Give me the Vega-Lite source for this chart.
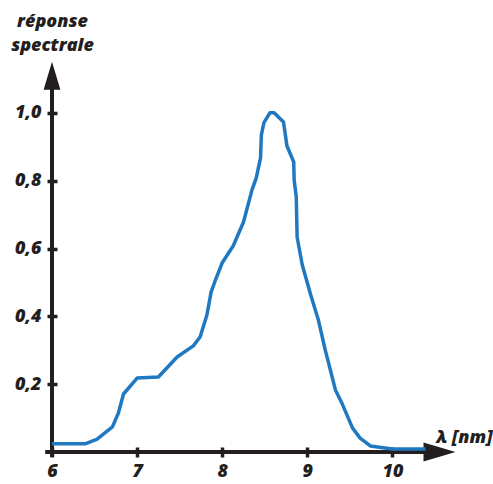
{
  "$schema": "https://vega.github.io/schema/vega-lite/v6.json",
  "width": 383,
  "height": 407,
  "autosize": {"type": "none"},
  "padding": {"left": 52, "top": 45, "right": 58, "bottom": 32},
  "background": "white",
  "config": {"view": {"stroke": null}},
  "datasets": {
    "curve": [
      {"lambda": 6.00, "r": 0.024}, {"lambda": 6.39, "r": 0.024}, {"lambda": 6.53, "r": 0.038},
      {"lambda": 6.71, "r": 0.074}, {"lambda": 6.78, "r": 0.115}, {"lambda": 6.84, "r": 0.171},
      {"lambda": 7.00, "r": 0.218}, {"lambda": 7.25, "r": 0.221}, {"lambda": 7.47, "r": 0.280},
      {"lambda": 7.66, "r": 0.313}, {"lambda": 7.74, "r": 0.339}, {"lambda": 7.82, "r": 0.404},
      {"lambda": 7.87, "r": 0.472}, {"lambda": 7.92, "r": 0.507}, {"lambda": 8.00, "r": 0.558},
      {"lambda": 8.13, "r": 0.608}, {"lambda": 8.25, "r": 0.678}, {"lambda": 8.35, "r": 0.773},
      {"lambda": 8.40, "r": 0.808}, {"lambda": 8.45, "r": 0.867}, {"lambda": 8.46, "r": 0.935},
      {"lambda": 8.49, "r": 0.971}, {"lambda": 8.56, "r": 1.000}, {"lambda": 8.61, "r": 1.000},
      {"lambda": 8.72, "r": 0.973}, {"lambda": 8.76, "r": 0.903}, {"lambda": 8.84, "r": 0.855},
      {"lambda": 8.845, "r": 0.802}, {"lambda": 8.87, "r": 0.752}, {"lambda": 8.88, "r": 0.634},
      {"lambda": 8.94, "r": 0.552}, {"lambda": 9.04, "r": 0.463}, {"lambda": 9.13, "r": 0.389},
      {"lambda": 9.21, "r": 0.301}, {"lambda": 9.33, "r": 0.183}, {"lambda": 9.41, "r": 0.142},
      {"lambda": 9.53, "r": 0.071}, {"lambda": 9.62, "r": 0.041}, {"lambda": 9.74, "r": 0.018},
      {"lambda": 10.00, "r": 0.009}, {"lambda": 10.39, "r": 0.009}
    ],
    "axes": [
      {"x": 5.92, "x2": 10.5, "y": 0, "y2": 0},
      {"x": 6, "x2": 6, "y": -0.015, "y2": 1.1}
    ]
  },
  "layer": [
    {
      "data": {"name": "axes"},
      "mark": {"type": "rule", "color": "#231f20", "strokeWidth": 4},
      "encoding": {
        "x": {"field": "x", "type": "quantitative", "scale": {"domain": [6, 10.5], "nice": false, "zero": false},
          "axis": {"values": [6, 7, 8, 9, 10], "format": "d", "domain": false, "grid": false, "offset": -5, "tickSize": 10, "tickWidth": 3.5, "tickColor": "#231f20",
            "labelFont": "Open Sans", "labelFontStyle": "italic", "labelFontWeight": 800, "labelFontSize": 18, "labelColor": "#231f20", "labelPadding": 5, "labelFlush": false,
            "title": "λ [nm]", "titleFont": "Open Sans", "titleFontStyle": "italic", "titleFontWeight": 800, "titleFontSize": 18, "titleColor": "#231f20",
            "titleX": 412, "titleY": -5, "titleAlign": "center", "titleBaseline": "alphabetic"}},
        "x2": {"field": "x2"},
        "y": {"field": "y", "type": "quantitative", "scale": {"domain": [0, 1.2], "nice": false},
          "axis": {"values": [0.2, 0.4, 0.6, 0.8, 1.0], "domain": false, "grid": false, "offset": -5, "tickSize": 10, "tickWidth": 3.5, "tickColor": "#231f20",
            "labelExpr": "replace(format(datum.value, '.1f'), '.', ',')",
            "labelFont": "Open Sans", "labelFontStyle": "italic", "labelFontWeight": 800, "labelFontSize": 18, "labelColor": "#231f20", "labelPadding": 6,
            "title": ["réponse", "spectrale"], "titleFont": "Open Sans", "titleFontStyle": "italic", "titleFontWeight": 800, "titleFontSize": 18, "titleColor": "#231f20",
            "titleAngle": 0, "titleX": -5, "titleY": -19, "titleAlign": "center", "titleBaseline": "alphabetic", "titleLineHeight": 24}},
        "y2": {"field": "y2"}
      }
    },
    {
      "data": {"values": [{"x": 10.553, "y": 0}]},
      "mark": {"type": "point", "shape": "M1,0L-1,-0.6L-1,0.6Z", "filled": true, "color": "#231f20", "opacity": 1, "size": 1024},
      "encoding": {"x": {"field": "x", "type": "quantitative"}, "y": {"field": "y", "type": "quantitative"}}
    },
    {
      "data": {"values": [{"x": 6, "y": 1.109}]},
      "mark": {"type": "point", "shape": "M0,-1L-0.6,1L0.6,1Z", "filled": true, "color": "#231f20", "opacity": 1, "size": 784},
      "encoding": {"x": {"field": "x", "type": "quantitative"}, "y": {"field": "y", "type": "quantitative"}}
    },
    {
      "data": {"name": "curve"},
      "mark": {"type": "line", "color": "#2079c0", "strokeWidth": 3.5, "strokeJoin": "round"},
      "encoding": {
        "x": {"field": "lambda", "type": "quantitative"},
        "y": {"field": "r", "type": "quantitative"}
      }
    }
  ]
}
